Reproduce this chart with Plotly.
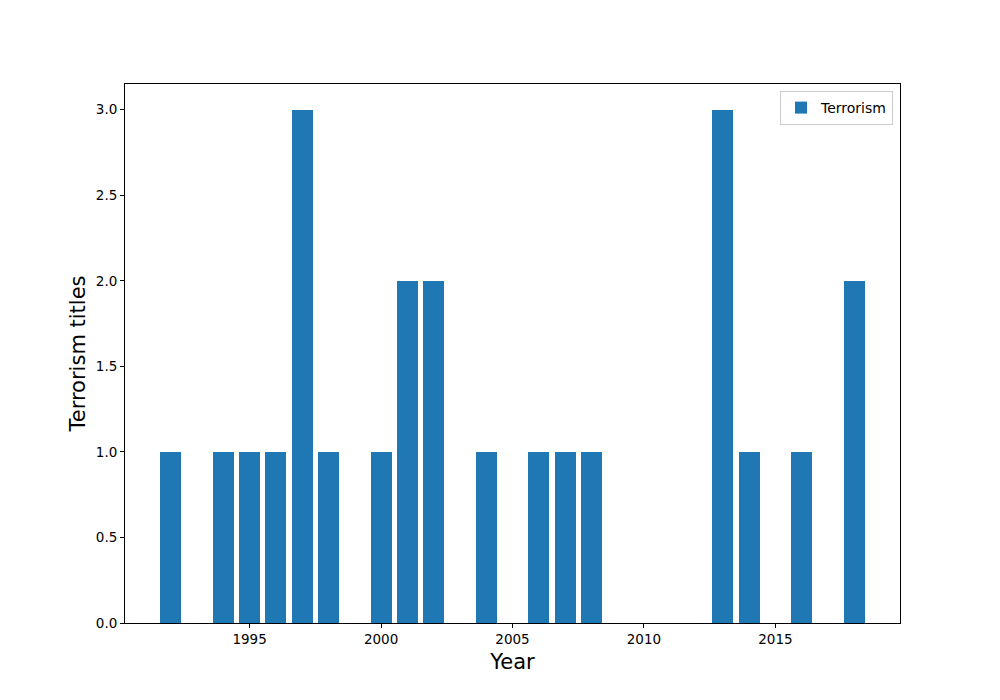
import plotly.graph_objects as go

years = [1992, 1994, 1995, 1996, 1997, 1998, 2000, 2001, 2002, 2004,
         2006, 2007, 2008, 2013, 2014, 2016, 2018]
counts = [1, 1, 1, 1, 3, 1, 1, 2, 2, 1, 1, 1, 1, 3, 1, 1, 2]
series_name = "Terrorism"
x_label = "Year"
y_label = "Terrorism titles"

fig = go.Figure()
fig.add_trace(go.Bar(x=years, y=counts, name=series_name, width=0.8,
                     marker=dict(color="#1f77b4", line=dict(width=0)),
                     showlegend=True))

font = "DejaVu Sans"
fig.update_layout(
    width=1000, height=700,
    margin=dict(l=117, r=108, t=76, b=85),
    paper_bgcolor="white", plot_bgcolor="white",
    font=dict(family=font, size=13, color="black"),
    showlegend=True,
    legend=dict(x=0.991, y=0.987, xanchor="right", yanchor="top",
                bordercolor="#cccccc", borderwidth=1, bgcolor="white",
                font=dict(family=font, size=14)),
    bargap=0,
)
fig.update_xaxes(
    range=[1990.26, 2019.74], tick0=1995, dtick=5,
    showline=True, linecolor="black", linewidth=1, mirror=True,
    ticks="outside", ticklen=4, tickcolor="black", showgrid=False, zeroline=False,
    tickfont=dict(size=13.5),
    title=dict(text=x_label, font=dict(family=font, size=21), standoff=8),
)
fig.update_yaxes(
    range=[0, 3.15], tick0=0, dtick=0.5, tickformat=".1f",
    showline=True, linecolor="black", linewidth=1, mirror=True,
    ticks="outside", ticklen=4, tickcolor="black", showgrid=False, zeroline=False,
    tickfont=dict(size=13.5),
    title=dict(text=y_label, font=dict(family=font, size=21), standoff=4),
)
fig.write_html("out.html")
